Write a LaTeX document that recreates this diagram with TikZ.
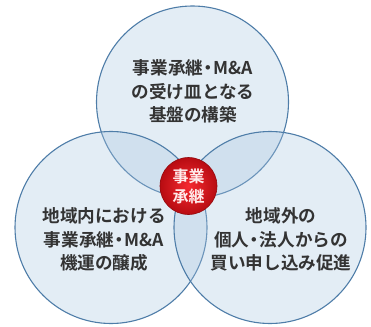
\documentclass[tikz,border=0pt]{standalone}
\usepackage{fontspec}
\newfontfamily\jp{Noto Sans CJK JP}[BoldFont={Noto Sans CJK JP Bold}]
\definecolor{ringfill}{HTML}{A9C6E0}
\definecolor{ringline}{HTML}{4E7DA8}
\definecolor{txt}{HTML}{333333}
\definecolor{redin}{HTML}{F52A30}
\definecolor{redout}{HTML}{B80C12}
\newcommand{\nd}{\makebox[0.6em]{・}}
\begin{document}
\begin{tikzpicture}[x=1pt,y=-1pt,
  ring/.style={circle, inner sep=0pt, minimum size=192pt, fill=ringfill, fill opacity=0.32, draw=ringline, draw opacity=1, line width=1.1pt},
  label/.style={font=\jp\bfseries\fontsize{17.6}{23.3}\selectfont, text=txt, align=center, inner sep=0pt},
  core/.style={circle, inner sep=0pt, minimum size=57pt, inner color=redin, outer color=redout, draw=redout!80!black, line width=0.6pt},
  coretext/.style={font=\jp\bfseries\fontsize{16}{19.5}\selectfont, text=white!92!red, align=center, inner sep=0pt}]
\useasboundingbox (0,0) rectangle (371,326);
\node[ring] (top) at (192.5,102) {};
\node[ring] (left) at (111,227.5) {};
\node[ring] (right) at (270,227.5) {};
\node[core] (center) at (188.5,186) {};
\node[coretext] (ct) at (188.5,186.5) {事業\\承継};
\node[label] (tt) at (193,91.5) {事業承継\nd M\&A\\の受け皿となる\\基盤の構築};
\node[label] (lt) at (104,239.5) {地域内における\\事業承継\nd M\&A\\機運の醸成};
\node[label] (rt) at (281,239.5) {地域外の\\個人\nd 法人からの\\買い申し込み促進};
\end{tikzpicture}
\end{document}
